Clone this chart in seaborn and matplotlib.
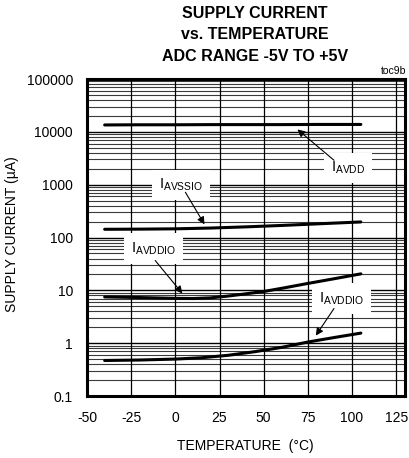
import matplotlib
matplotlib.use("Agg")
import matplotlib.pyplot as plt
from matplotlib import font_manager
import numpy as np
import pandas as pd
import seaborn as sns

# Supply current vs. temperature (ADC range -5V to +5V)
temp_avdd = [-40, -20, 0, 20, 40, 60, 80, 105]
i_avdd = [13500, 13600, 13600, 13700, 13700, 13700, 13800, 13800]

temp_avssio = [-40, -20, 0, 20, 40, 60, 80, 105]
i_avssio = [143, 144, 146, 151, 159, 169, 181, 197]

temp_avddio_hi = [-40, -20, 0, 10, 20, 30, 40, 50, 62, 75, 90, 105]
i_avddio_hi = [7.5, 7.3, 7.05, 7.0, 7.2, 7.8, 8.6, 9.5, 11.2, 13.5, 16.6, 20.5]

temp_avddio_lo = [-40, -20, 0, 15, 30, 45, 60, 75, 90, 105]
i_avddio_lo = [0.47, 0.48, 0.50, 0.53, 0.59, 0.69, 0.83, 1.05, 1.28, 1.55]

x_ticks = [-50, -25, 0, 25, 50, 75, 100, 125]
y_ticks = [0.1, 1, 10, 100, 1000, 10000, 100000]
y_tick_labels = ["0.1", "1", "10", "100", "1000", "10000", "100000"]

sns.set_theme(style="white")
plt.rcParams["font.family"] = ["Liberation Sans", "DejaVu Sans"]
plt.rcParams["mathtext.fontset"] = "custom"
plt.rcParams["mathtext.rm"] = "Liberation Sans"

# narrow bold face for the heading when available
installed = {f.name for f in font_manager.fontManager.ttflist}
if "Liberation Sans Narrow" in installed:
    title_font, title_size = ["Liberation Sans Narrow", "DejaVu Sans"], 13
else:
    title_font, title_size = ["Liberation Sans", "DejaVu Sans"], 11.5

fig = plt.figure(figsize=(4.09, 4.58), dpi=100)
ax = fig.add_axes([87 / 409, 1 - 396 / 458, (405 - 87) / 409, (396 - 79) / 458])

curves = [
    ("IAVDD", temp_avdd, i_avdd),
    ("IAVSSIO", temp_avssio, i_avssio),
    ("IAVDDIO_hi", temp_avddio_hi, i_avddio_hi),
    ("IAVDDIO_lo", temp_avddio_lo, i_avddio_lo),
]
df = pd.concat(
    [pd.DataFrame({"series": name, "temp": t, "current": c}) for name, t, c in curves],
    ignore_index=True,
)

ax.set_yscale("log")
ax.set_xlim(-50, 130)
ax.set_ylim(0.1, 100000)

# grid: decade lines and minor lines, vertical lines every 25 degC
for dec in y_ticks:
    ax.axhline(dec, color="black", lw=1.0, zorder=1)
    if dec < 100000:
        for m in range(2, 10):
            ax.axhline(dec * m, color="#3a3a3a", lw=0.8, zorder=1)
for xv in x_ticks[1:]:
    ax.axvline(xv, color="black", lw=0.9, zorder=1)

sns.lineplot(
    data=df, x="temp", y="current", units="series", estimator=None,
    color="black", lw=2.2, ax=ax, zorder=4, sort=False,
)

ax.set_xticks(x_ticks)
ax.set_xticklabels([str(v) for v in x_ticks])
ax.set_yticks(y_ticks)
ax.set_yticklabels(y_tick_labels)
ax.minorticks_off()
ax.tick_params(axis="both", length=0, labelsize=10, colors="black")
ax.tick_params(axis="x", pad=11)
ax.tick_params(axis="y", pad=10)
ax.set_xlabel("")
ax.set_ylabel("")
for sp in ax.spines.values():
    sp.set_visible(True)
    sp.set_color("black")
    sp.set_linewidth(2.2)
    sp.set_zorder(6)

# curve labels with white backing
box = dict(facecolor="white", edgecolor="none", pad=5)
labels = [
    (r"$\mathregular{I_{AVDD}}$", 97.7, 2050),
    (r"$\mathregular{I_{AVSSIO}}$", 3.4, 975),
    (r"$\mathregular{I_{AVDDIO}}$", -12.5, 62),
    (r"$\mathregular{I_{AVDDIO}}$", 93.8, 7.0),
]
for txt, x, y in labels:
    ax.text(x, y, txt, ha="center", va="center", fontsize=10.5, color="black",
            bbox=box, zorder=3)

arrows = [
    ((89.8, 2900), (69.1, 11100)),
    ((5.7, 718), (16.5, 177)),
    ((-11.4, 36.7), (4.0, 8.7)),
    ((89.8, 4.52), (79.5, 1.39)),
]
for tail, head in arrows:
    ax.annotate("", xy=head, xytext=tail,
                arrowprops=dict(arrowstyle="-|>", color="black", lw=0.8,
                                mutation_scale=11, shrinkA=0, shrinkB=0),
                zorder=5)

# titles and axis labels
for txt, yp in [("SUPPLY CURRENT", 13.5), ("vs. TEMPERATURE", 34.5),
                ("ADC RANGE -5V TO +5V", 56.5)]:
    fig.text(255 / 409, 1 - yp / 458, txt, ha="center", va="center",
             fontsize=title_size, fontweight="bold", family=title_font,
             color="black")
fig.text(406 / 409, 1 - 71 / 458, "toc9b", ha="right", va="center",
         fontsize=7.5, color="black")
fig.text(12 / 409, 1 - 234 / 458, "SUPPLY CURRENT (\u00b5A)", rotation=90,
         ha="center", va="center", fontsize=10, color="black")
fig.text(245 / 409, 1 - 446 / 458, "TEMPERATURE  (\u00b0C)", ha="center",
         va="center", fontsize=10, color="black")

fig.savefig("out.png", dpi=100)
